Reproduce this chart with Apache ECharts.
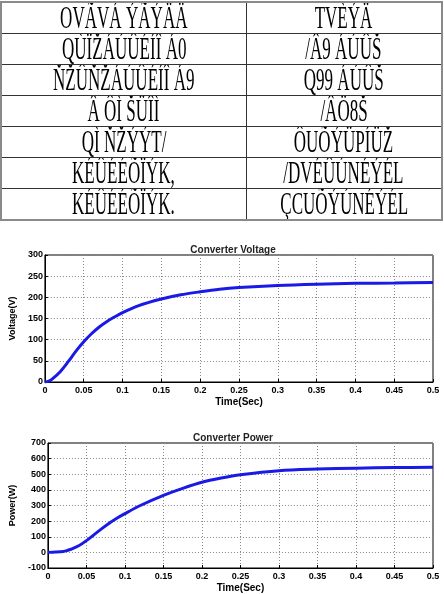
<!DOCTYPE html>
<html>
<head>
<meta charset="utf-8">
<script src="https://cdn.jsdelivr.net/npm/echarts@6/dist/echarts.min.js"></script>
<style>
  html,body{margin:0;padding:0;background:#fff;}
  #wrap{position:relative;width:444px;height:594px;overflow:hidden;}
  #main{position:absolute;left:0;top:0;width:444px;height:594px;}
  table{position:absolute;left:0;top:1px;width:443px;table-layout:fixed;border-collapse:collapse;border:2px solid #8a8a8a;}
  td{height:30px;border:1px solid #333;padding:0;overflow:hidden;}
  td div{display:flex;justify-content:center;white-space:nowrap;}
  td span{display:inline-block;font-family:"Liberation Serif",serif;font-size:31px;line-height:30px;transform:scaleX(0.55);}
  col.c1{width:245px;}
</style>
</head>
<body>
<div id="wrap">
  <div id="main"></div>
  <table id="tbl"><colgroup><col class="c1"><col></colgroup></table>
</div>
<script>
// table text (as it appears in the source, garbled font encoding)
var paramNames = ['OVÃVÁ ÝÃÝÄÄ','QÙÏŽÁÚÛÉÍÎ Á0','ŇŽÛŇŽÁÚÛÉÍÎ Á9','Â ÔÌ ŠÜÎÌ','QÌ ŇŽÝÝT/','KÉÛÉÉÕÏÝK,','KÉÛÉÉÕÏÝK.'];
var paramValues = ['TVÈÝÄ','/Â9 ÁÚÛŠ','Q99 ÁÚÛŠ','/ÂÖ8Š','ÔUÕÝÜPÍÜŽ','/DVÉÛÚNÉÝÉL','ÇCUÕÝÚNÉÝÉL'];

// converter voltage
var vTime = [0,0.005,0.01,0.02,0.03,0.04,0.05,0.06,0.07,0.08,0.09,0.1,0.12,0.15,0.175,0.2,0.225,0.25,0.3,0.35,0.4,0.45,0.5];
var vVals = [0,2,8,25,48,73,95,114,130,143,154,164,180,196,206,213,219,223,228,231,233,234,235];

// converter power
var pTime = [0,0.01,0.02,0.025,0.03,0.04,0.05,0.06,0.07,0.08,0.09,0.1,0.12,0.15,0.175,0.2,0.225,0.25,0.3,0.35,0.4,0.45,0.5];
var pVals = [0,2,6,12,20,42,75,114,152,188,220,248,300,365,410,449,476,497,523,533,539,543,545];

var xTicks = ['0','0.05','0.1','0.15','0.2','0.25','0.3','0.35','0.4','0.45','0.5'];

var tbl = document.getElementById('tbl');
paramNames.forEach(function(n,i){
  var tr = document.createElement('tr');
  tr.innerHTML = '<td><div><span>'+n+'</span></div></td><td><div><span>'+paramValues[i]+'</span></div></td>';
  tbl.appendChild(tr);
});

var chart = echarts.init(document.getElementById('main'));
var lbl = {color:'#000',fontSize:9,fontWeight:'bold',fontFamily:'Arial'};
function xAx(gi){
  return {
    type:'value',gridIndex:gi,min:0,max:0.5,interval:0.05,
    name:'Time(Sec)',nameLocation:'middle',nameGap:15,
    nameTextStyle:{color:'#000',fontSize:10,fontWeight:'bold',fontFamily:'Arial'},
    axisLine:{show:true,onZero:false,lineStyle:{color:'#000',width:1}},
    axisTick:{show:true,inside:true,length:3,lineStyle:{color:'#000'}},
    axisLabel:Object.assign({margin:4,formatter:function(v){return xTicks[Math.round(v/0.05)];}},lbl),
    splitLine:{show:true,lineStyle:{color:'#888',type:[1,2],width:1}}
  };
}
function yAx(gi,min,max,iv,name){
  return {
    type:'value',gridIndex:gi,min:min,max:max,interval:iv,
    name:name,nameLocation:'middle',nameGap:16,
    nameTextStyle:{color:'#000',fontSize:9,fontWeight:'bold',fontFamily:'Arial'},
    axisLine:{show:true,lineStyle:{color:'#000',width:1}},
    axisTick:{show:true,inside:true,length:3,lineStyle:{color:'#000'}},
    axisLabel:Object.assign({margin:2},lbl),
    splitLine:{show:true,lineStyle:{color:'#888',type:[1,2],width:1}}
  };
}
chart.setOption({
  animation:false,
  title:[
    {text:'Converter Voltage',left:228,textAlign:'center',top:240,textStyle:{fontSize:10,fontWeight:'bold',color:'#222',fontFamily:'Arial'}},
    {text:'Converter Power',left:228,textAlign:'center',top:428,textStyle:{fontSize:10,fontWeight:'bold',color:'#222',fontFamily:'Arial'}}
  ],
  grid:[
    {left:24,right:11,top:255,height:127,show:true,borderColor:'#000',borderWidth:1},
    {left:24,right:11,top:443,height:127,show:true,borderColor:'#000',borderWidth:1}
  ],
  xAxis:[xAx(0),xAx(1)],
  yAxis:[yAx(0,0,300,50,'Voltage(V)'),yAx(1,-100,700,100,'Power(W)')],
  series:[
    {type:'line',xAxisIndex:0,yAxisIndex:0,data:vTime.map(function(t,i){return [t,vVals[i]];}),
     smooth:0.3,showSymbol:false,lineStyle:{color:'#1a1ae6',width:3}},
    {type:'line',xAxisIndex:1,yAxisIndex:1,data:pTime.map(function(t,i){return [t,pVals[i]];}),
     smooth:0.3,showSymbol:false,lineStyle:{color:'#1a1ae6',width:3}}
  ]
});
</script>
</body>
</html>
